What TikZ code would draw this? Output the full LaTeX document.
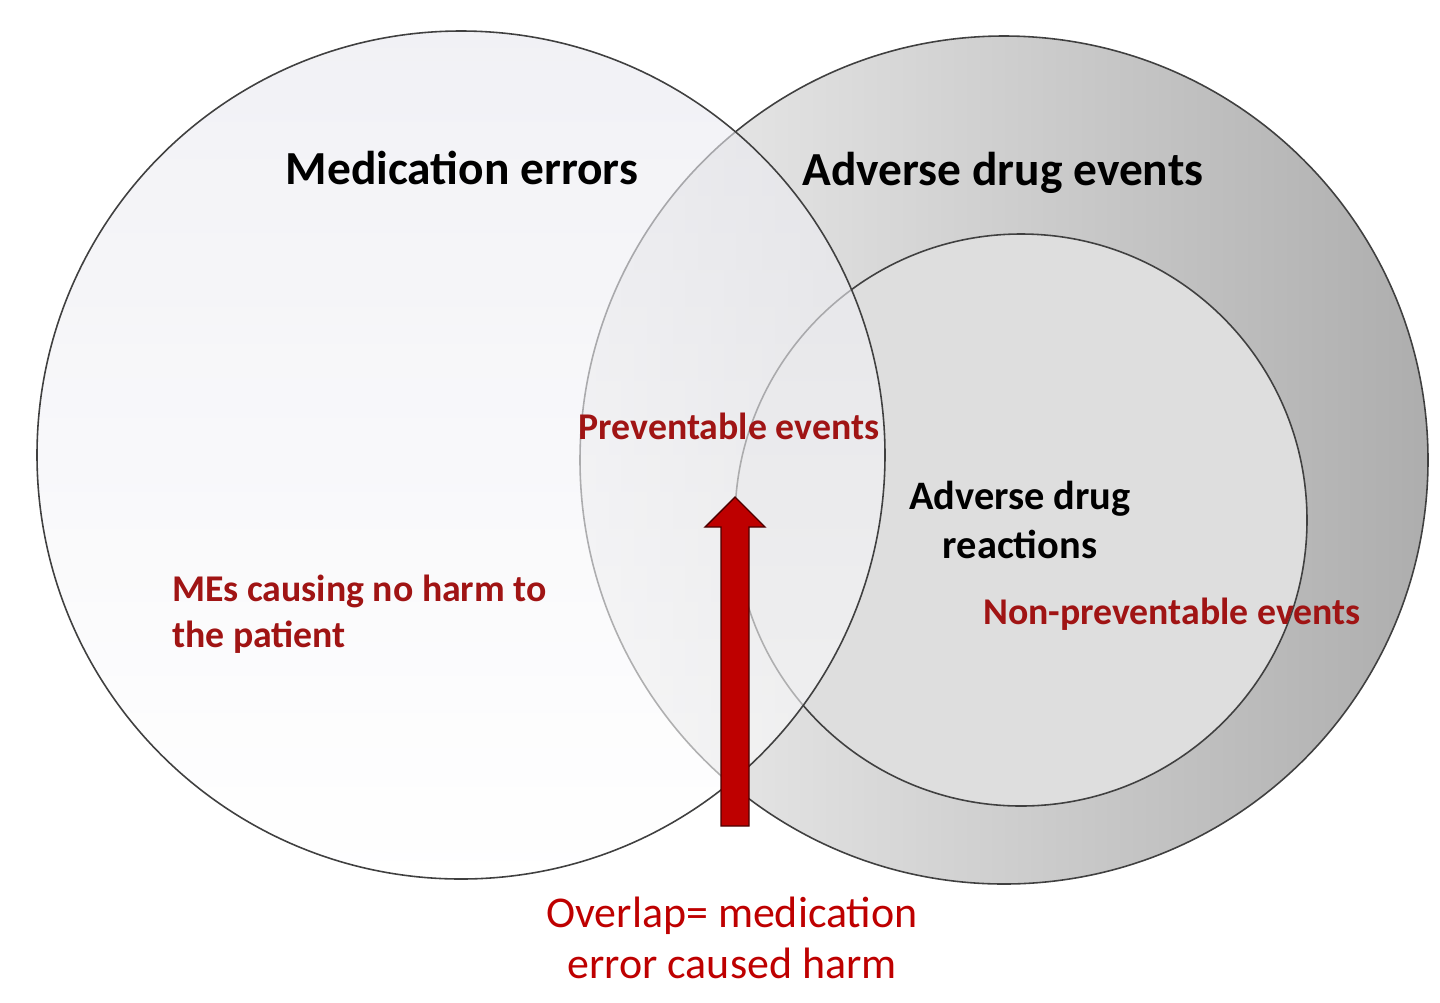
\documentclass[tikz,border=0pt]{standalone}
\usepackage{fontspec}
\setmainfont{Carlito}
\usetikzlibrary{arrows.meta}
\definecolor{colred}{RGB}{160,20,20}
\definecolor{colarrow}{RGB}{190,0,0}
\tikzset{
	ring/.style={draw=black!75, line width=0.9pt},
	title/.style={font=\fontsize{27}{30}\selectfont\bfseries, text=black},
	note/.style={font=\fontsize{21.5}{26}\selectfont\bfseries, text=colred, align=left},
	caption/.style={font=\fontsize{25}{29}\selectfont, text=colarrow, align=center}
}
\begin{document}
\begin{tikzpicture}[x=0.02cm, y=-0.02cm]
	\useasboundingbox (0,0) rectangle (1440,1002);
	% adverse drug events
	\shade[left color=black!6, right color=black!32] (1004,460) circle (424);
	\draw[ring] (1004,460) circle (424);
	\fill[black!13] (1021,520) circle (286);
	\draw[ring] (1021,520) circle (286);
	% medication errors
	\shade[top color=blue!30!black!9, bottom color=white, opacity=0.6] (461,455) circle (424);
	\draw[ring] (461,455) circle (424);
	\node[title] (me) at (462,168) {Medication errors};
	\node[title] (ade) at (1003,173) {Adverse drug events};
	\node[note] (prev) at (729,426) {Preventable events};
	\node[font=\fontsize{23}{27.5}\selectfont\bfseries, align=center] (adr) at (1020,520) {Adverse drug\\reactions};
	\node[note] (nonprev) at (1172,614) {Non-preventable events};
	\node[note, anchor=west] (noharm) at (166,614) {MEs causing no harm to\\the patient};
	\node[caption] (overlap) at (732,938) {Overlap= medication\\error caused harm};
	\coordinate (tail) at (735,826);
	\coordinate (tip) at (735,497);
	\fill[colarrow, draw=black!70!red, line width=0.8pt]
		(721,826) -- (721,527) -- (705,527) -- (735,497) -- (765,527) -- (749,527) -- (749,826) -- cycle;
\end{tikzpicture}
\end{document}
